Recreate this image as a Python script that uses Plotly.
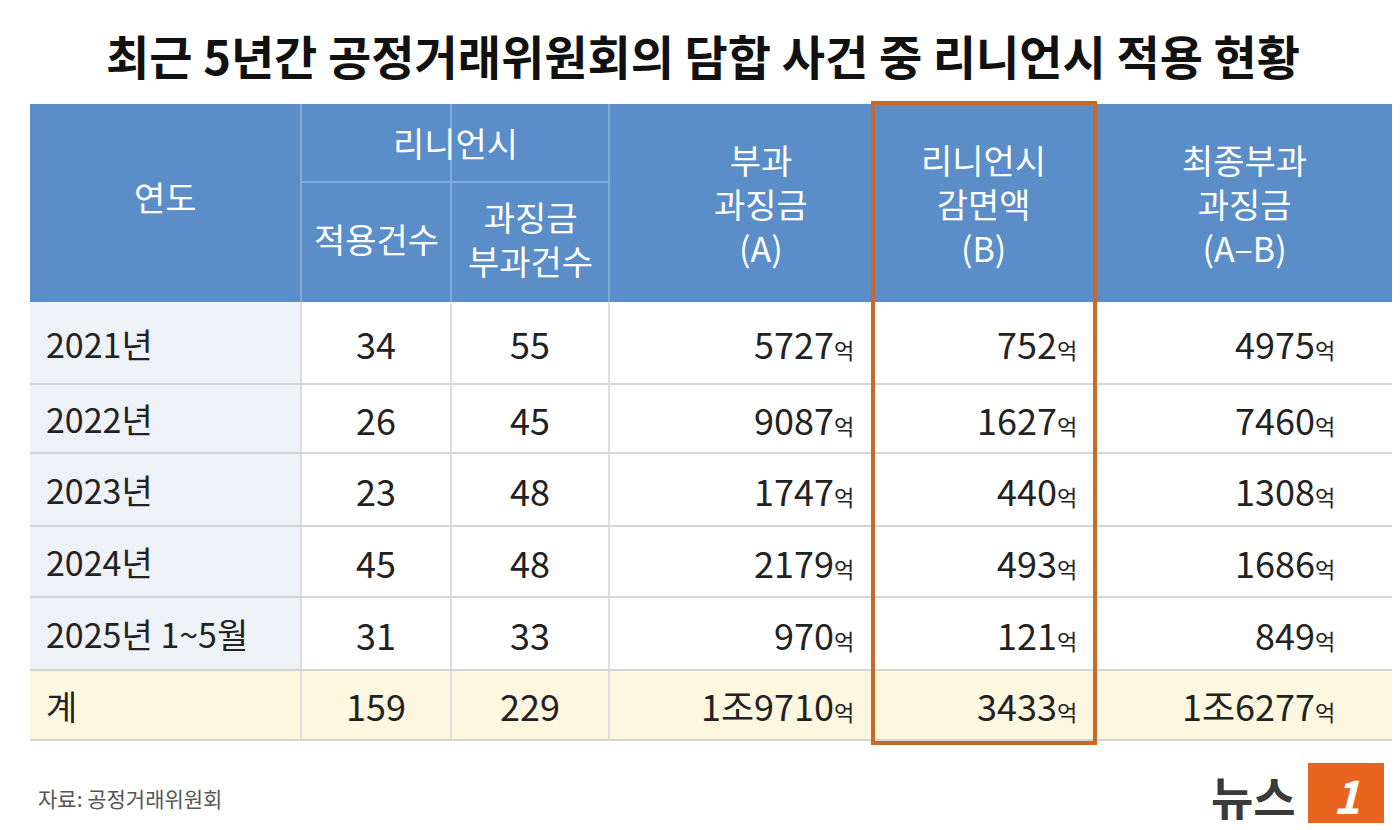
import plotly.graph_objects as go

years = ["2021년", "2022년", "2023년", "2024년", "2025년 1~5월", "계"]
applied = [34, 26, 23, 45, 31, 159]
fined = [55, 45, 48, 48, 33, 229]
levy_a = ["5727", "9087", "1747", "2179", "970", "1조9710"]
relief_b = ["752", "1627", "440", "493", "121", "3433"]
final_ab = ["4975", "7460", "1308", "1686", "849", "1조6277"]

FONT = "Noto Sans CJK KR"
BLUE = "#5b8ec8"
col_x = [22, 293, 443, 601, 864, 1087, 1385]
row_y = [294, 376, 445, 518, 589, 662, 732]
H_TOP, H_MID = 96, 174

fig = go.Figure()
shapes, ann = [], []

def rect(x0, y0, x1, y1, color, line=None, width=0):
    shapes.append(dict(type="rect", x0=x0, y0=y0, x1=x1, y1=y1, fillcolor=color,
                       line=dict(color=line or color, width=width), layer="below"))

def line(x0, y0, x1, y1, color, width=1):
    shapes.append(dict(type="line", x0=x0, y0=y0, x1=x1, y1=y1, line=dict(color=color, width=width)))

def text(x, y, s, size=32, color="#222", anchor="center", bold=False):
    if bold:
        s = f"<b>{s}</b>"
    ann.append(dict(x=x, y=y, text=s, showarrow=False, xanchor=anchor, yanchor="middle",
                    font=dict(family=FONT, size=size, color=color)))

# header
rect(col_x[0], H_TOP, col_x[-1], row_y[0], BLUE)
for cx in col_x[1:-1]:
    line(cx, H_TOP, cx, row_y[0], "#8fb3dc", 1.5)
line(col_x[1], H_MID, col_x[3], H_MID, "#8fb3dc", 1.5)
wh = "white"
text((col_x[0] + col_x[1]) / 2, 188, "연도", size=34, color=wh)
text((col_x[1] + col_x[3]) / 2, 134, "리니언시", size=34, color=wh)
text((col_x[1] + col_x[2]) / 2, 230, "적용건수", size=34, color=wh)
text((col_x[2] + col_x[3]) / 2, 230, "과징금<br>부과건수", size=34, color=wh)
text((col_x[3] + col_x[4]) / 2 + 20, 195, "부과<br>과징금<br>(A)", size=34, color=wh)
text((col_x[4] + col_x[5]) / 2, 195, "리니언시<br>감면액<br>(B)", size=34, color=wh)
text((col_x[5] + col_x[6]) / 2, 195, "최종부과<br>과징금<br>(A–B)", size=34, color=wh)

# body
for i, yr in enumerate(years):
    y0, y1 = row_y[i], row_y[i + 1]
    yc = (y0 + y1) / 2
    total = i == len(years) - 1
    if total:
        rect(col_x[0], y0, col_x[-1], y1, "#fdf7df")
    else:
        rect(col_x[0], y0, col_x[1], y1, "#eef1f6")
    line(col_x[0], y1, col_x[-1], y1, "#c9c9c9", 1.5)
    text(col_x[0] + 14, yc, yr, size=34, anchor="left")
    text((col_x[1] + col_x[2]) / 2, yc, str(applied[i]), size=36)
    text((col_x[2] + col_x[3]) / 2, yc, str(fined[i]), size=36)
    for j, vals in enumerate([levy_a, relief_b, final_ab]):
        text(col_x[4 + j] - 16 - (40 if j == 2 else 0), yc,
             f"{vals[i]}<span style='font-size:22px'>억</span>", size=36, anchor="right")
for cx in col_x[1:-1]:
    line(cx, row_y[0], cx, row_y[-1], "#d4d4d4", 1.5)

# highlight box
shapes.append(dict(type="rect", x0=865, y0=95, x1=1087, y1=735,
                   line=dict(color="#c8692a", width=4), fillcolor="rgba(0,0,0,0)"))

# title, source, logo
text(695, 46, "최근 5년간 공정거래위원회의 담합 사건 중 리니언시 적용 현황", size=47, color="#111", bold=True)
text(28, 790, "자료: 공정거래위원회", size=21, color="#555", anchor="left")
text(1290, 787, "뉴스", size=46, color="#3a3a3a", anchor="right", bold=True)
shapes.append(dict(type="rect", x0=1300, y0=755, x1=1376, y1=815, fillcolor="#e8641f",
                   line=dict(color="#e8641f", width=0)))
text(1338, 786, "<i>1</i>", size=46, color="white", bold=True)

fig.update_layout(
    width=1400, height=830, margin=dict(l=0, r=0, t=0, b=0),
    paper_bgcolor="white", plot_bgcolor="white",
    xaxis=dict(range=[0, 1400], visible=False, fixedrange=True),
    yaxis=dict(range=[830, 0], visible=False, fixedrange=True),
    shapes=shapes, annotations=ann, showlegend=False,
)
fig.write_html("out.html")
